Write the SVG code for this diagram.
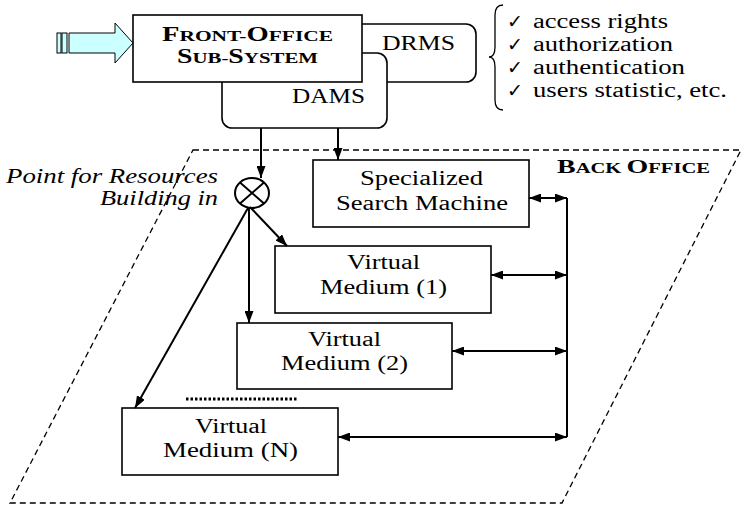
<svg xmlns="http://www.w3.org/2000/svg" width="743" height="506" viewBox="0 0 743 506">
<style>
.box{fill:#fff;stroke:#000;stroke-width:1.6}
.t{font-family:'Liberation Serif','Times New Roman',serif;font-size:20px;fill:#000}
.it{font-style:italic}
.b{font-weight:bold}
.ck{font-family:'DejaVu Sans',sans-serif;font-size:19px;fill:#000}
.ln{fill:none;stroke:#000;stroke-width:2}
.dash{fill:none;stroke:#000;stroke-width:1.3;stroke-dasharray:6 4}
</style>
<defs>
<marker id="ah" markerUnits="userSpaceOnUse" markerWidth="12" markerHeight="9" viewBox="0 0 12 9" refX="12" refY="4.5" orient="auto-start-reverse">
<path d="M0,0 L12,4.5 L0,9 z" fill="#000"/>
</marker>
</defs>
<rect width="743" height="506" fill="#fff"/>
<g id="back-office">
<polygon class="dash" points="193,150 741,150 562,503 10,503"/>
<text class="t b" x="557" y="173" textLength="153" lengthAdjust="spacingAndGlyphs"><tspan font-size="19">B</tspan><tspan font-size="14">ACK </tspan><tspan font-size="19">O</tspan><tspan font-size="14">FFICE</tspan></text>
</g>
<g id="input-arrow">
<rect x="57" y="33" width="4" height="20" fill="#ccffff" stroke="#000" stroke-width="1"/>
<rect x="62" y="33" width="5" height="20" fill="#ccffff" stroke="#000" stroke-width="1"/>
<polygon points="69,33 115,33 115,23 133,43 115,63 115,53 69,53" fill="#ccffff" stroke="#000" stroke-width="1"/>
</g>
<g id="drms">
<rect class="box" x="300" y="24" width="176" height="58" rx="10"/>
<text class="t" x="382" y="50" textLength="73" lengthAdjust="spacingAndGlyphs">DRMS</text>
</g>
<g id="dams">
<rect class="box" x="222" y="53" width="165" height="75" rx="10"/>
<text class="t" x="292" y="103" textLength="73" lengthAdjust="spacingAndGlyphs">DAMS</text>
</g>
<g id="front-office">
<rect class="box" x="133" y="15" width="229" height="67"/>
<text class="t b" x="162" y="41" textLength="171" lengthAdjust="spacingAndGlyphs"><tspan font-size="20">F</tspan><tspan font-size="15">RONT-</tspan><tspan font-size="20">O</tspan><tspan font-size="15">FFICE</tspan></text>
<text class="t b" x="177" y="63" textLength="141" lengthAdjust="spacingAndGlyphs"><tspan font-size="20">S</tspan><tspan font-size="15">UB-</tspan><tspan font-size="20">S</tspan><tspan font-size="15">YSTEM</tspan></text>
</g>
<g id="features">
<path d="M503,5 Q495,5 495,15 L495,47 Q495,57 489,57 Q495,57 495,67 L495,100 Q495,110 503,110" fill="none" stroke="#000" stroke-width="1.3"/>
<text class="ck" x="507" y="28">✓</text>
<text class="ck" x="507" y="51">✓</text>
<text class="ck" x="507" y="74">✓</text>
<text class="ck" x="507" y="97">✓</text>
<text class="t" x="533" y="28" textLength="135" lengthAdjust="spacingAndGlyphs">access rights</text>
<text class="t" x="533" y="51" textLength="140" lengthAdjust="spacingAndGlyphs">authorization</text>
<text class="t" x="533" y="74" textLength="152" lengthAdjust="spacingAndGlyphs">authentication</text>
<text class="t" x="533" y="97" textLength="194" lengthAdjust="spacingAndGlyphs">users statistic, etc.</text>
</g>
<g id="resource-point">
<ellipse cx="252" cy="193" rx="17" ry="15" fill="#fff" stroke="#000" stroke-width="2"/>
<path d="M240,182.4 L264,203.6 M264,182.4 L240,203.6" stroke="#000" stroke-width="2"/>
<text class="t it" x="6" y="183" textLength="212" lengthAdjust="spacingAndGlyphs">Point for Resources</text>
<text class="t it" x="100" y="205" textLength="118" lengthAdjust="spacingAndGlyphs">Building in</text>
</g>
<g id="search-machine">
<rect class="box" x="313" y="160" width="216" height="67"/>
<text class="t" x="360" y="185" textLength="123" lengthAdjust="spacingAndGlyphs">Specialized</text>
<text class="t" x="336" y="210" textLength="172" lengthAdjust="spacingAndGlyphs">Search Machine</text>
</g>
<g id="vm1">
<rect class="box" x="275" y="246" width="216" height="67"/>
<text class="t" x="347" y="269" textLength="73" lengthAdjust="spacingAndGlyphs">Virtual</text>
<text class="t" x="320" y="294" textLength="127" lengthAdjust="spacingAndGlyphs">Medium (1)</text>
</g>
<g id="vm2">
<rect class="box" x="237" y="323" width="215" height="66"/>
<text class="t" x="308" y="346" textLength="73" lengthAdjust="spacingAndGlyphs">Virtual</text>
<text class="t" x="281" y="370" textLength="127" lengthAdjust="spacingAndGlyphs">Medium (2)</text>
</g>
<g id="vmn">
<rect class="box" x="122" y="408" width="216" height="67"/>
<text class="t" x="195" y="433" textLength="72" lengthAdjust="spacingAndGlyphs">Virtual</text>
<text class="t" x="163" y="457" textLength="135" lengthAdjust="spacingAndGlyphs">Medium (N)</text>
</g>
<g id="ellipsis">
<line x1="186" y1="399" x2="297" y2="399" stroke="#000" stroke-width="3" stroke-dasharray="2.5 2"/>
</g>
<g id="connectors">
<path class="ln" d="M261,128 V178" marker-end="url(#ah)"/>
<path class="ln" d="M338,128 V160" marker-end="url(#ah)"/>
<path class="ln" d="M250,207 L287,246" marker-end="url(#ah)"/>
<path class="ln" d="M249,208 V323" marker-end="url(#ah)"/>
<path class="ln" d="M248,208 L135,408" marker-end="url(#ah)"/>
<path class="ln" d="M567,198 V437"/>
<path class="ln" d="M529,198 H567" marker-start="url(#ah)" marker-end="url(#ah)"/>
<path class="ln" d="M491,275 H567" marker-start="url(#ah)" marker-end="url(#ah)"/>
<path class="ln" d="M452,351 H567" marker-start="url(#ah)" marker-end="url(#ah)"/>
<path class="ln" d="M338,437 H567" marker-start="url(#ah)" marker-end="url(#ah)"/>
</g>
</svg>
